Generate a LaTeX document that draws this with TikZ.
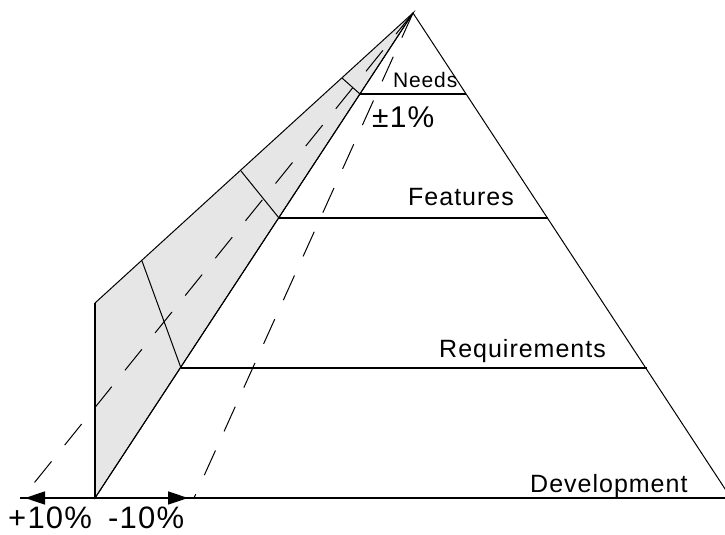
\documentclass[tikz,border=0pt]{standalone}
\usepackage{fontspec}
\setmainfont[LetterSpace=4]{Liberation Sans}
\usetikzlibrary{arrows.meta}
\definecolor{FlapGray}{HTML}{E6E6E6}

\tikzset{
  side/.style={line width=1pt},
  tier/.style={line width=1.6pt},
  guide/.style={line width=1pt, dash pattern=on 27pt off 21pt},
  shiftarrow/.style={line width=1.6pt, -{Triangle[length=20pt,width=13pt]}},
  lbl/.style={anchor=base west, inner sep=0pt, font=\fontsize{25}{30}\selectfont},
}

\begin{document}
\begin{tikzpicture}[x=1pt, y=-1pt]
  \useasboundingbox (0,0) rectangle (725,535);
  \clip (0,0) rectangle (725,535);

  % pyramid corners
  \coordinate (apex) at (413,13);
  \coordinate (bl) at (95,498);
  \coordinate (br) at (731,498);
  % level lines
  \coordinate (needsL) at (360,94);  \coordinate (needsR) at (466,94);
  \coordinate (featL)  at (279,218); \coordinate (featR)  at (548,218);
  \coordinate (reqL)   at (181,368); \coordinate (reqR)   at (647,368);
  % tilted face
  \coordinate (flapB) at (95,303);
  \coordinate (flapR) at (142,261);
  \coordinate (flapF) at (241,171);
  \coordinate (flapN) at (342,78);
  % ends of the shifted base
  \coordinate (plusEnd)  at (22,498);
  \coordinate (minusEnd) at (194,498);
  \coordinate (plusTip)  at (25,498);
  \coordinate (minusTip) at (188,498);
  \coordinate (lineStart) at (20,498);

  % tilted face, shaded
  \filldraw[side, fill=FlapGray] (bl) -- (flapB) -- (apex) -- cycle;
  \draw[tier] (bl) -- (flapB);
  \draw[side] (reqL) -- (flapR);
  \draw[side] (featL) -- (flapF);
  \draw[side] (needsL) -- (flapN);

  % tolerance guides
  \draw[guide] (apex) -- (plusEnd);
  \draw[guide] (apex) -- (minusEnd);

  % the pyramid
  \draw[side] (bl) -- (apex) -- (br);
  \draw[tier] (lineStart) -- (br);
  \draw[tier] (needsL) -- (needsR);
  \draw[tier] (featL) -- (featR);
  \draw[tier] (reqL) -- (reqR);

  % shift arrows
  \draw[shiftarrow] (bl) -- (plusTip);
  \draw[shiftarrow] (bl) -- (minusTip);

  % labels
  \node[lbl, font=\fontsize{21}{25}\selectfont] (needs) at (393,87) {Needs};
  \node[lbl, font=\fontsize{30}{36}\selectfont] (acc) at (372,127) {±1\%};
  \node[lbl] (features) at (408,205) {Features};
  \node[lbl] (requirements) at (439,357) {Requirements};
  \node[lbl] (development) at (530,492) {Development};
  \node[lbl, font=\fontsize{31}{37}\selectfont] (plus) at (8,528) {+10\%};
  \node[lbl, font=\fontsize{31}{37}\selectfont] (minus) at (108,528) {-10\%};
\end{tikzpicture}
\end{document}
